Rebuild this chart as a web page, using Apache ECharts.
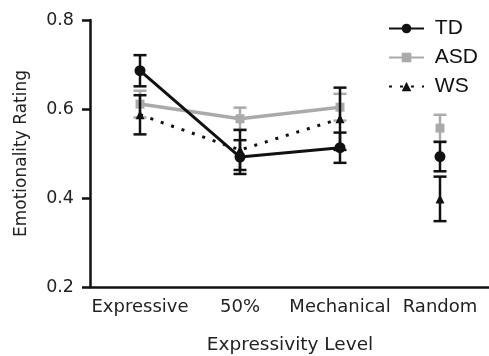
<!DOCTYPE html>
<html>
<head>
<meta charset="utf-8">
<script src="https://cdn.jsdelivr.net/npm/echarts@6/dist/echarts.min.js"></script>
<style>
html,body{margin:0;padding:0;background:#fff;}
#chart{width:489px;height:356px;}
</style>
</head>
<body>
<div id="chart"></div>
<script>
const categories = ['Expressive', '50%', 'Mechanical', 'Random'];
const yTicks = [0.2, 0.4, 0.6, 0.8];
const tdMean = [0.686, 0.492, 0.513, 0.493];
const tdErr  = [0.035, 0.038, 0.034, 0.033];
const asdMean = [0.611, 0.578, 0.604, 0.557];
const asdErr  = [0.030, 0.025, 0.030, 0.030];
const wsMean = [0.587, 0.508, 0.578, 0.398];
const wsErr  = [0.044, 0.045, 0.070, 0.050];

const WIDE = '"DejaVu Sans", Verdana, sans-serif';
const FONT = '"Liberation Sans", Arial, Helvetica, sans-serif';
const BLACK = '#111111';
const GRAY = '#aaaaaa';

function connected(m) { return m.map((v, i) => i < 3 ? v : '-'); }
function alone(m) { return m.map((v, i) => i === 3 ? v : '-'); }
function errData(m, e) { return m.map((v, i) => [i, v - e[i], v + e[i]]); }

function errSeries(name, m, e, color, z) {
  return {
    name: name + ' error', type: 'custom', z: z,
    data: errData(m, e),
    encode: { x: 0, y: [1, 2] },
    itemStyle: { color: color },
    renderItem: function (params, api) {
      const x = api.value(0);
      const lo = api.coord([x, api.value(1)]);
      const hi = api.coord([x, api.value(2)]);
      const hw = 6.5;
      const st = { stroke: color, lineWidth: 2.5, fill: null };
      return {
        type: 'group',
        children: [
          { type: 'line', shape: { x1: lo[0], y1: lo[1], x2: hi[0], y2: hi[1] }, style: st },
          { type: 'line', shape: { x1: lo[0] - hw, y1: lo[1], x2: lo[0] + hw, y2: lo[1] }, style: st },
          { type: 'line', shape: { x1: hi[0] - hw, y1: hi[1], x2: hi[0] + hw, y2: hi[1] }, style: st }
        ]
      };
    },
    silent: true
  };
}

function lineSeries(name, data, color, symbol, size, lineType, width, z) {
  return {
    name: name, type: 'line', z: z, data: data,
    symbol: symbol, symbolSize: size, showAllSymbol: true,
    connectNulls: false,
    itemStyle: { color: color, borderWidth: 0 },
    lineStyle: { color: color, width: width, type: lineType, cap: 'butt' },
    animation: false
  };
}

const chart = echarts.init(document.getElementById('chart'), null, { renderer: 'canvas' });
chart.setOption({
  animation: false,
  backgroundColor: '#fff',
  textStyle: { fontFamily: FONT },
  grid: { left: 90, top: 20, width: 400, height: 267, containLabel: false, outerBoundsMode: 'none' },
  legend: {
    orient: 'vertical', left: 383, top: 13,
    itemWidth: 35, itemHeight: 12, itemGap: 8,
    data: ['TD', 'ASD', 'WS'],
    formatter: n => ' ' + n,
    textStyle: { fontFamily: FONT, fontSize: 21, color: '#111' }
  },
  xAxis: {
    type: 'category', data: categories, boundaryGap: true,
    name: 'Expressivity Level', nameLocation: 'middle', nameGap: 49,
    nameTextStyle: { fontFamily: WIDE, fontSize: 18.5, color: '#222' },
    axisLine: { lineStyle: { color: BLACK, width: 2.5 } },
    axisTick: { alignWithLabel: true, length: 8, lineStyle: { color: BLACK, width: 2.5 } },
    axisLabel: { fontFamily: WIDE, fontSize: 18, color: '#222', margin: 11, interval: 0, hideOverlap: false },
    splitLine: { show: false }
  },
  yAxis: {
    type: 'value', min: 0.2, max: 0.8, interval: 0.2,
    name: 'Emotionality Rating', nameLocation: 'middle', nameGap: 60,
    nameTextStyle: { fontFamily: WIDE, fontSize: 17, color: '#222' },
    axisLine: { show: true, lineStyle: { color: BLACK, width: 2.5 } },
    axisTick: { show: true, length: 8, lineStyle: { color: BLACK, width: 2.5 } },
    axisLabel: { fontFamily: WIDE, fontSize: 17.5, color: '#222', margin: 16,
      formatter: v => yTicks.includes(Math.round(v * 10) / 10) ? v.toFixed(1) : '' },
    splitLine: { show: false }
  },
  series: [
    errSeries('ASD', asdMean, asdErr, GRAY, 1),
    lineSeries('ASD', connected(asdMean), GRAY, 'rect', 9, 'solid', 3.5, 2),
    lineSeries('ASD', alone(asdMean), GRAY, 'rect', 9, 'solid', 3.5, 2),
    errSeries('WS', wsMean, wsErr, BLACK, 3),
    lineSeries('WS', connected(wsMean), BLACK, 'triangle', 9, [3, 8], 3, 4),
    lineSeries('WS', alone(wsMean), BLACK, 'triangle', 9, [3, 8], 3, 4),
    errSeries('TD', tdMean, tdErr, BLACK, 5),
    lineSeries('TD', connected(tdMean), BLACK, 'circle', 11, 'solid', 3, 6),
    lineSeries('TD', alone(tdMean), BLACK, 'circle', 11, 'solid', 3, 6)
  ]
});
</script>
</body>
</html>
